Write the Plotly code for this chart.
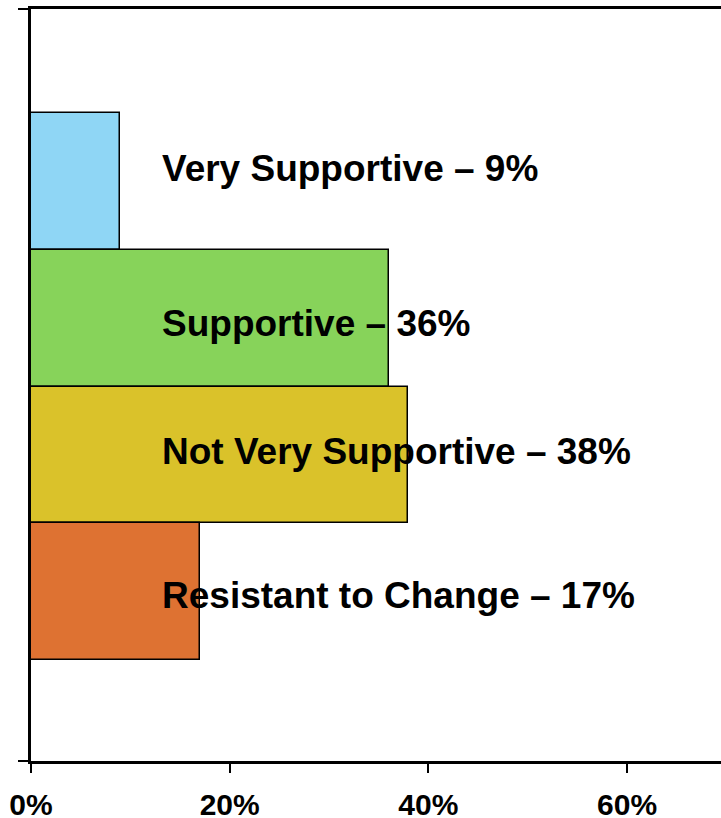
import plotly.graph_objects as go

categories = ["Very Supportive", "Supportive", "Not Very Supportive", "Resistant to Change"]
values = [9, 36, 38, 17]
colors = ["#8FD6F5", "#87D35A", "#DAC22A", "#DE7232"]
tick_vals = [0, 20, 40, 60]
tick_text = ["0%", "20%", "40%", "60%"]

positions = list(range(len(categories)))
label_offsets = [-0.094, 0.036, -0.025, 0.029]

font_family = "Arial, 'Liberation Sans', sans-serif"

fig = go.Figure()
fig.add_trace(go.Bar(
    x=values,
    y=positions,
    orientation="h",
    width=1,
    marker=dict(color=colors, line=dict(color="black", width=1.5)),
    hoverinfo="skip",
    showlegend=False,
))

for i, (cat, val) in enumerate(zip(categories, values)):
    fig.add_annotation(
        x=13.0, y=positions[i] + label_offsets[i],
        xref="x", yref="y",
        text=f"<b>{cat} – {val}%</b>",
        showarrow=False,
        xanchor="left", yanchor="middle",
        font=dict(family=font_family, size=37, color="black"),
    )

fig.update_layout(
    width=721, height=818,
    autosize=False,
    margin=dict(l=31, r=0, t=9, b=57),
    paper_bgcolor="white",
    plot_bgcolor="white",
    bargap=0,
    font=dict(family=font_family, color="black"),
)

fig.update_xaxes(
    range=[0, 69.46],
    tickvals=tick_vals,
    ticktext=[f"<b>{t}</b>" for t in tick_text],
    tickfont=dict(size=30, family=font_family, color="black"),
    ticks="outside", ticklen=9, tickwidth=2, tickcolor="black",
    showline=True, linewidth=2.5, linecolor="black", mirror=True,
    showgrid=False, zeroline=False,
    ticklabelstandoff=6,
    automargin=False,
)

fig.update_yaxes(
    range=[4.2386, -1.2605],
    tickvals=[4.2386, -1.2605],
    ticktext=["", ""],
    ticks="outside", ticklen=10, tickwidth=2, tickcolor="black",
    showline=True, linewidth=2.5, linecolor="black",
    showgrid=False, zeroline=False,
    automargin=False,
)

fig.write_html(
    "out.html",
    config={"responsive": False, "displayModeBar": False},
    post_script="document.body.style.margin='0';document.body.style.overflow='hidden';",
)
